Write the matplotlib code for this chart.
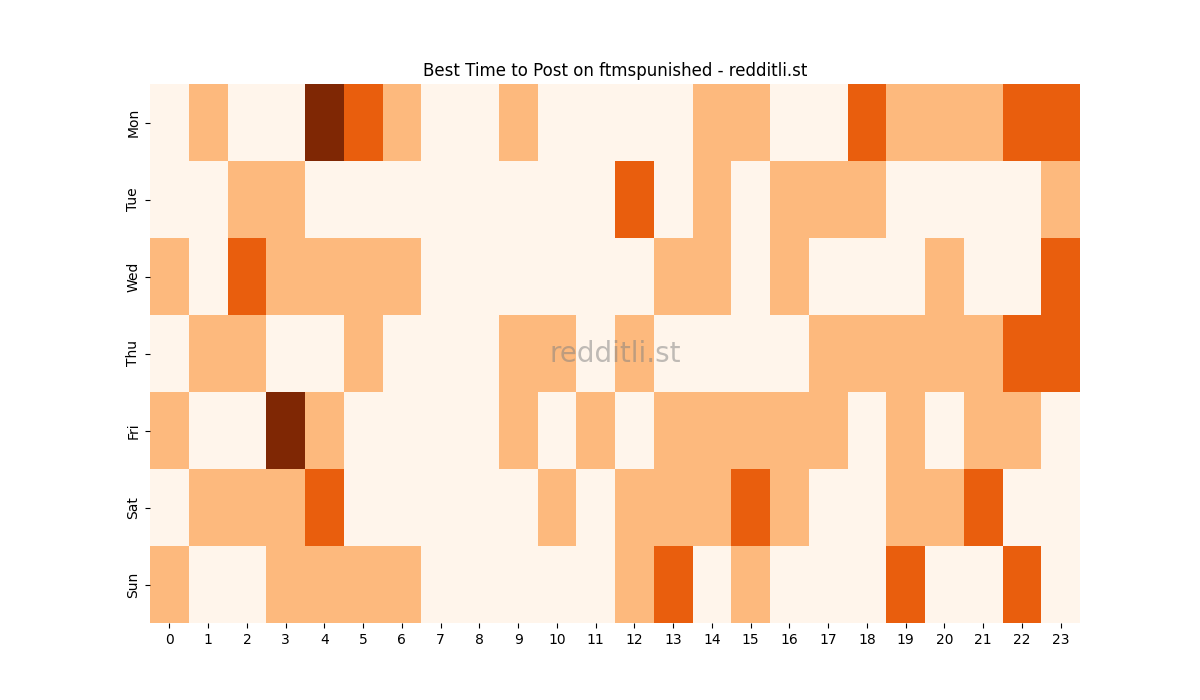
import matplotlib
matplotlib.use("Agg")
import matplotlib.pyplot as plt
import seaborn as sns
import numpy as np

days = ["Mon", "Tue", "Wed", "Thu", "Fri", "Sat", "Sun"]
hours = list(range(24))
mon = [0,1,0,0,3,2,1,0,0,1,0,0,0,0,1,1,0,0,2,1,1,1,2,2]
tue = [0,0,1,1,0,0,0,0,0,0,0,0,2,0,1,0,1,1,1,0,0,0,0,1]
wed = [1,0,2,1,1,1,1,0,0,0,0,0,0,1,1,0,1,0,0,0,1,0,0,2]
thu = [0,1,1,0,0,1,0,0,0,1,1,0,1,0,0,0,0,1,1,1,1,1,2,2]
fri = [1,0,0,3,1,0,0,0,0,1,0,1,0,1,1,1,1,1,0,1,0,1,1,0]
sat = [0,1,1,1,2,0,0,0,0,0,1,0,1,1,1,2,1,0,0,1,1,2,0,0]
sun = [1,0,0,1,1,1,1,0,0,0,0,0,1,2,0,1,0,0,0,2,0,0,2,0]

data = np.array([mon, tue, wed, thu, fri, sat, sun])

fig, ax = plt.subplots(figsize=(12, 7), dpi=100)
sns.heatmap(data, cmap="Oranges", vmin=0, vmax=3, cbar=False, ax=ax,
            xticklabels=hours, yticklabels=days)
ax.set_title("Best Time to Post on ftmspunished - redditli.st")
ax.text(0.5, 0.5, "redditli.st", transform=ax.transAxes, fontsize=20,
        color="gray", alpha=0.5, ha="center", va="center")
fig.savefig("out.png")
